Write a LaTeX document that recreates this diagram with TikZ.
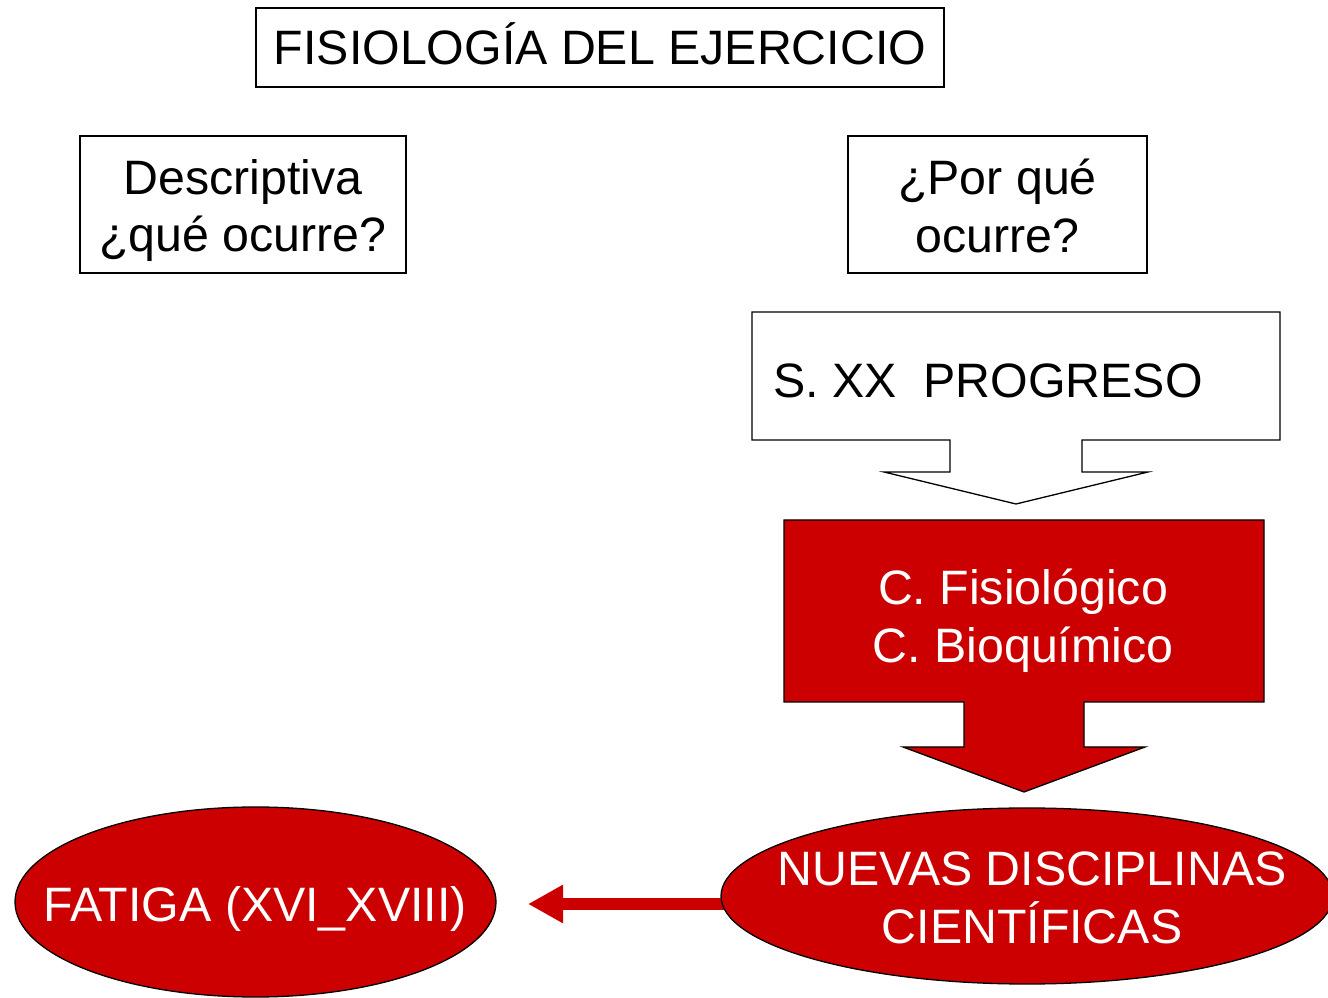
\documentclass[tikz,border=0pt]{standalone}
\usepackage{fontspec}
\setmainfont{Liberation Sans}
\usetikzlibrary{shapes.geometric,arrows.meta}
\definecolor{fisred}{RGB}{204,0,0}
\begin{document}
\begin{tikzpicture}[line join=miter,
  every node/.style={font=\fontsize{48.3bp}{57.5bp}\selectfont},
  box/.style={draw=black,rectangle,line width=1.3bp,inner sep=0pt},
  txt/.style={align=center,inner sep=0pt},
  oneline/.style={text height=34.6bp,text depth=0pt,inner sep=0pt},
  redell/.style={draw=black,ellipse,fill=fisred,line width=1.3bp,inner sep=0pt},
  callout/.style={draw=black,line width=1.3bp},
]
\useasboundingbox (0bp,0bp) rectangle (1328bp,998bp);
%%
\node (titulo) at (600bp,950.5bp) [box,oneline,minimum width=688bp,minimum height=79bp] {FISIOLOGÍA DEL EJERCICIO};
\node (descriptiva) at (243bp,793.5bp) [box,minimum width=326bp,minimum height=137bp] {};
\node (descriptiva_txt) at ([yshift=-6bp]descriptiva) [txt] {Descriptiva\\¿qué ocurre?};
\node (porque) at (997.5bp,793.5bp) [box,minimum width=299bp,minimum height=137bp] {};
\node (porque_txt) at ([yshift=-1.5bp]porque) [txt] {¿Por qué\\ocurre?};
%
\coordinate (prog_nw) at (752bp,686bp);
\coordinate (prog_se) at (1280bp,558bp);
\coordinate (prog_tip) at (1016bp,494bp);
\draw [callout,fill=white] (prog_nw) -| (prog_se) -- (1082bp,558bp) -- (1082bp,526bp) -- (1148bp,526bp) -- (prog_tip) -- (884bp,526bp) -- (950bp,526bp) -- (950bp,558bp) -- (prog_nw |- prog_se) -- cycle;
\node (progreso) at (773bp,618bp) [anchor=west,oneline] {S. XX\ \ PROGRESO};
%
\coordinate (cono_nw) at (784bp,478bp);
\coordinate (cono_se) at (1264bp,296bp);
\coordinate (cono_tip) at (1024bp,206bp);
\draw [callout,fill=fisred] (cono_nw) -| (cono_se) -- (1084bp,296bp) -- (1084bp,251bp) -- (1145bp,251bp) -- (cono_tip) -- (903bp,251bp) -- (964bp,251bp) -- (964bp,296bp) -- (cono_nw |- cono_se) -- cycle;
\node (conocimiento) at (1023bp,377.5bp) [txt,text=white] {C. Fisiológico\\C. Bioquímico};
%
\coordinate (flecha_ini) at (724bp,94bp);
\coordinate (flecha_fin) at (528bp,94bp);
\draw [fisred,line width=12bp,-{Triangle[length=35bp,width=36bp]}] (flecha_ini) -- (flecha_fin);
%
\node (nuevas) at (1027bp,102bp) [redell,minimum width=612bp,minimum height=176bp] {};
\node (nuevas_txt) at (1032bp,100bp) [txt,text=white] {NUEVAS DISCIPLINAS\\CIENTÍFICAS};
\node (fatiga) at (255.5bp,96bp) [redell,minimum width=481bp,minimum height=190bp] {};
\node (fatiga_txt) at (255bp,94bp) [oneline,text=white] {FATIGA (XVI\_XVIII)};
%
\end{tikzpicture}
\end{document}
